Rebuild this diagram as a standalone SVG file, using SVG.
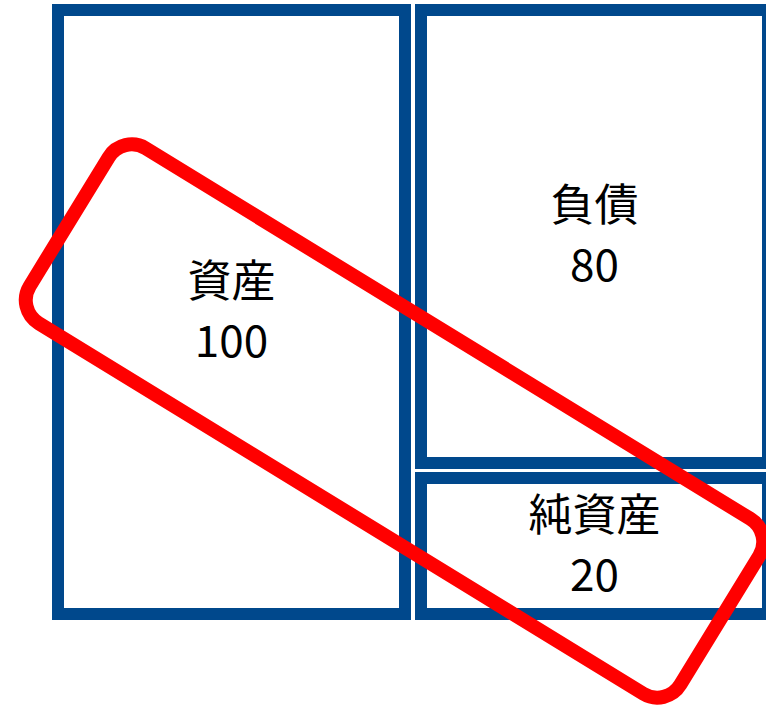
<svg xmlns="http://www.w3.org/2000/svg" width="766" height="706" viewBox="0 0 766 706">
<style>
.box{fill:#FFFFFF;stroke:#00488C;stroke-width:12}
.lbl{font-family:"Noto Sans CJK JP","Noto Sans",sans-serif;font-size:44px;fill:#000000;text-anchor:middle}
.hl{fill:none;stroke:#FF0000;stroke-width:14}
</style>
<rect x="0" y="0" width="766" height="706" fill="#FFFFFF"/>
<g id="assets">
<rect class="box" x="58" y="10" width="347" height="604"/>
<text class="lbl" x="231.5" y="297">資産</text>
<text class="lbl" x="231.5" y="357">100</text>
</g>
<g id="liabilities">
<rect class="box" x="421" y="10" width="347" height="453"/>
<text class="lbl" x="594.5" y="221">負債</text>
<text class="lbl" x="594.5" y="281">80</text>
</g>
<g id="net-assets">
<rect class="box" x="421" y="478" width="347" height="136"/>
<text class="lbl" x="594.5" y="531">純資産</text>
<text class="lbl" x="594.5" y="591">20</text>
</g>
<g id="connectors"/>
<g id="highlight">
<rect class="hl" x="-381.5" y="-102.5" width="763" height="205" rx="27" transform="translate(394.5,421) rotate(31.5)"/>
</g>
</svg>
